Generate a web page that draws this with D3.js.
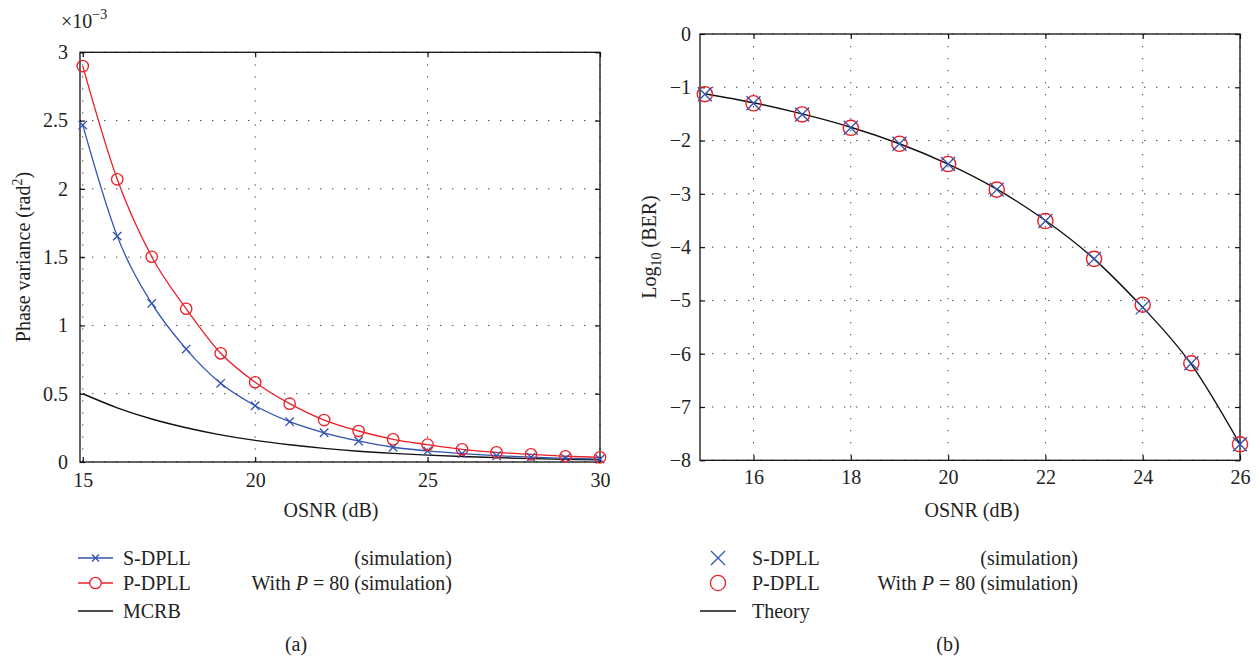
<!DOCTYPE html>
<html><head><meta charset="utf-8">
<script src="https://cdn.jsdelivr.net/npm/d3@7"></script>
<style>
body{margin:0;background:#fff}
text{font-family:"Liberation Serif","Times New Roman",serif;fill:#222}
</style>
</head><body>
<svg id="c" width="1260" height="660"></svg>
<script>
// ---------- Data: panel (a) ----------
const osnrA   = [15,16,17,18,19,20,21,22,23,24,25,26,27,28,29,30];
const sdpllA  = [2.467,1.654,1.161,0.827,0.576,0.412,0.295,0.214,0.154,0.108,0.081,0.061,0.046,0.035,0.027,0.021];
const pdpllA  = [2.899,2.07,1.503,1.122,0.796,0.584,0.427,0.307,0.227,0.166,0.127,0.093,0.071,0.056,0.042,0.034];
const mcrbA   = [0.50,0.397,0.315,0.251,0.199,0.158,0.126,0.10,0.079,0.063,0.05,0.04,0.032,0.025,0.02,0.016];
const xTicksA = [15,20,25,30];
const yTicksA = [0,0.5,1,1.5,2,2.5,3];

// ---------- Data: panel (b) ----------
const osnrB   = [15,16,17,18,19,20,21,22,23,24,25,26];
const sdpllB  = [-1.13,-1.30,-1.51,-1.76,-2.06,-2.44,-2.92,-3.51,-4.22,-5.13,-6.18,-7.70];
const pdpllB  = [-1.13,-1.30,-1.51,-1.76,-2.06,-2.44,-2.92,-3.51,-4.22,-5.08,-6.18,-7.70];
const theoryB = [-1.12,-1.29,-1.50,-1.75,-2.06,-2.44,-2.91,-3.50,-4.22,-5.13,-6.20,-7.70];
const xTicksB = [16,18,20,22,24,26];
const yTicksB = [0,-1,-2,-3,-4,-5,-6,-7,-8];

const BLUE = "#2f53b0", RED = "#ec1f26";
const svg = d3.select("#c");

function xPath(s){ return `M${-s},${-s}L${s},${s}M${-s},${s}L${s},${-s}`; }

function panel(o){
  const g = svg.append("g");
  const x = d3.scaleLinear().domain(o.xd).range([o.L,o.R]);
  const y = d3.scaleLinear().domain(o.yd).range([o.B,o.T]);
  // grid
  g.append("g").selectAll("line").data(o.xTicks).join("line")
    .attr("x1",d=>x(d)).attr("x2",d=>x(d)).attr("y1",o.T).attr("y2",o.B)
    .attr("stroke","#444").attr("stroke-width",1).attr("stroke-dasharray","1.4,10.6");
  g.append("g").selectAll("line").data(o.yTicks).join("line")
    .attr("y1",d=>y(d)).attr("y2",d=>y(d)).attr("x1",o.L).attr("x2",o.R)
    .attr("stroke","#444").attr("stroke-width",1).attr("stroke-dasharray","1.4,10.6");
  // axes
  const ax = (gen, tr) => {
    const a = g.append("g").attr("transform",tr).call(gen);
    a.select(".domain").remove();
    a.selectAll("line").attr("stroke","#111").attr("stroke-width",1.2);
    a.selectAll("text").attr("font-size",20).attr("fill","#222").attr("font-family",'"Liberation Serif","Times New Roman",serif');
    return a;
  };
  ax(d3.axisBottom(x).tickValues(o.xTicks).tickSizeInner(-5).tickSizeOuter(0).tickPadding(o.xPad).tickFormat(d3.format("d")), `translate(0,${o.B})`);
  ax(d3.axisTop(x).tickValues(o.xTicks).tickSizeInner(-5).tickSizeOuter(0).tickFormat(""), `translate(0,${o.T})`);
  ax(d3.axisLeft(y).tickValues(o.yTicks).tickSizeInner(-5).tickSizeOuter(0).tickPadding(o.yPad).tickFormat(o.yFmt), `translate(${o.L},0)`);
  ax(d3.axisRight(y).tickValues(o.yTicks).tickSizeInner(-5).tickSizeOuter(0).tickFormat(""), `translate(${o.R},0)`);
  g.append("rect").attr("x",o.L).attr("y",o.T).attr("width",o.R-o.L).attr("height",o.B-o.T)
    .attr("fill","none").attr("stroke","#111").attr("stroke-width",1.3);
  return {g,x,y};
}

// ---------------- Panel (a) ----------------
const A = panel({L:80,R:600,T:52.3,B:462,xd:[14.92,30],yd:[0,3],xTicks:xTicksA,yTicks:yTicksA,
  xPad:11,yPad:12,yFmt:d3.format("")});
const lineA = (vals)=>d3.line().x((d,i)=>A.x(osnrA[i])).y(d=>A.y(d)).curve(d3.curveMonotoneX)(vals);
A.g.append("path").attr("d",lineA(mcrbA)).attr("fill","none").attr("stroke","#111").attr("stroke-width",1.4);
A.g.append("path").attr("d",lineA(sdpllA)).attr("fill","none").attr("stroke",BLUE).attr("stroke-width",1.3);
A.g.append("path").attr("d",lineA(pdpllA)).attr("fill","none").attr("stroke",RED).attr("stroke-width",1.3);
A.g.append("g").selectAll("path").data(sdpllA).join("path")
  .attr("transform",(d,i)=>`translate(${A.x(osnrA[i])},${A.y(d)})`).attr("d",xPath(4.2))
  .attr("stroke",BLUE).attr("stroke-width",1.3).attr("fill","none");
A.g.append("g").selectAll("circle").data(pdpllA).join("circle")
  .attr("cx",(d,i)=>A.x(osnrA[i])).attr("cy",d=>A.y(d)).attr("r",5.7)
  .attr("stroke",RED).attr("stroke-width",1.3).attr("fill","none");

// multiplier
const mt = svg.append("text").attr("x",61).attr("y",28).attr("font-size",20);
mt.append("tspan").text("×10");
mt.append("tspan").attr("font-size",14).attr("dy",-9).text("−3");

// labels
svg.append("text").attr("x",331).attr("y",517).attr("text-anchor","middle").attr("font-size",20).text("OSNR (dB)");
const ylA = svg.append("text").attr("transform","translate(30,257) rotate(-90)").attr("text-anchor","middle").attr("font-size",20);
ylA.append("tspan").text("Phase variance (rad");
ylA.append("tspan").attr("font-size",14).attr("dy",-8).text("2");
ylA.append("tspan").attr("dy",8).text(")");
svg.append("text").attr("x",296).attr("y",651).attr("text-anchor","middle").attr("font-size",20).text("(a)");

// legend (a)
const legA = [
  {n:"S-DPLL", c:BLUE, m:"x", y:558},
  {n:"P-DPLL", c:RED, m:"o", y:583},
  {n:"MCRB", c:"#111", m:null, y:611}
];
legA.forEach(d=>{
  svg.append("line").attr("x1",78).attr("x2",113).attr("y1",d.y).attr("y2",d.y).attr("stroke",d.c).attr("stroke-width",1.4);
  if(d.m==="x") svg.append("path").attr("transform",`translate(95.5,${d.y})`).attr("d",xPath(3.5)).attr("stroke",d.c).attr("stroke-width",1.3);
  if(d.m==="o") svg.append("circle").attr("cx",95.5).attr("cy",d.y).attr("r",5.7).attr("stroke",d.c).attr("stroke-width",1.3).attr("fill","#fff");
  svg.append("text").attr("x",123).attr("y",d.y+7).attr("font-size",20).text(d.n);
});
svg.append("text").attr("x",452).attr("y",565).attr("text-anchor","end").attr("font-size",20).text("(simulation)");
const wA = svg.append("text").attr("x",452).attr("y",590).attr("text-anchor","end").attr("font-size",20);
wA.append("tspan").text("With ");
wA.append("tspan").attr("font-style","italic").text("P");
wA.append("tspan").text(" = 80 (simulation)");

// ---------------- Panel (b) ----------------
const B = panel({L:700,R:1240,T:34,B:460.3,xd:[14.9,26],yd:[-8,0],xTicks:xTicksB,yTicks:yTicksB,
  xPad:10,yPad:9,yFmt:d3.format("d")});
const lineB = d3.line().x((d,i)=>B.x(osnrB[i])).y(d=>B.y(d)).curve(d3.curveNatural);
B.g.append("path").attr("d",lineB(theoryB)).attr("fill","none").attr("stroke","#111").attr("stroke-width",1.4);
B.g.append("g").selectAll("circle").data(pdpllB).join("circle")
  .attr("cx",(d,i)=>B.x(osnrB[i])).attr("cy",d=>B.y(d)).attr("r",7.6)
  .attr("stroke",RED).attr("stroke-width",1.4).attr("fill","none");
B.g.append("g").selectAll("path").data(sdpllB).join("path")
  .attr("transform",(d,i)=>`translate(${B.x(osnrB[i])},${B.y(d)})`).attr("d",xPath(7))
  .attr("stroke",BLUE).attr("stroke-width",1.3).attr("fill","none");

svg.append("text").attr("x",972).attr("y",517).attr("text-anchor","middle").attr("font-size",20).text("OSNR (dB)");
const ylB = svg.append("text").attr("transform","translate(656,247) rotate(-90)").attr("text-anchor","middle").attr("font-size",20);
ylB.append("tspan").text("Log");
ylB.append("tspan").attr("font-size",14).attr("dy",5).text("10");
ylB.append("tspan").attr("dy",-5).text(" (BER)");
svg.append("text").attr("x",948).attr("y",651).attr("text-anchor","middle").attr("font-size",20).text("(b)");

// legend (b)
svg.append("path").attr("transform","translate(718,558)").attr("d",xPath(7)).attr("stroke",BLUE).attr("stroke-width",1.3);
svg.append("circle").attr("cx",718).attr("cy",583).attr("r",7.6).attr("stroke",RED).attr("stroke-width",1.3).attr("fill","none");
svg.append("line").attr("x1",700).attr("x2",736).attr("y1",611).attr("y2",611).attr("stroke","#111").attr("stroke-width",1.4);
[["S-DPLL",558],["P-DPLL",583],["Theory",611]].forEach(([n,yy])=>{
  svg.append("text").attr("x",752).attr("y",yy+7).attr("font-size",20).text(n);
});
svg.append("text").attr("x",1078).attr("y",565).attr("text-anchor","end").attr("font-size",20).text("(simulation)");
const wB = svg.append("text").attr("x",1078).attr("y",590).attr("text-anchor","end").attr("font-size",20);
wB.append("tspan").text("With ");
wB.append("tspan").attr("font-style","italic").text("P");
wB.append("tspan").text(" = 80 (simulation)");
</script>
</body></html>
